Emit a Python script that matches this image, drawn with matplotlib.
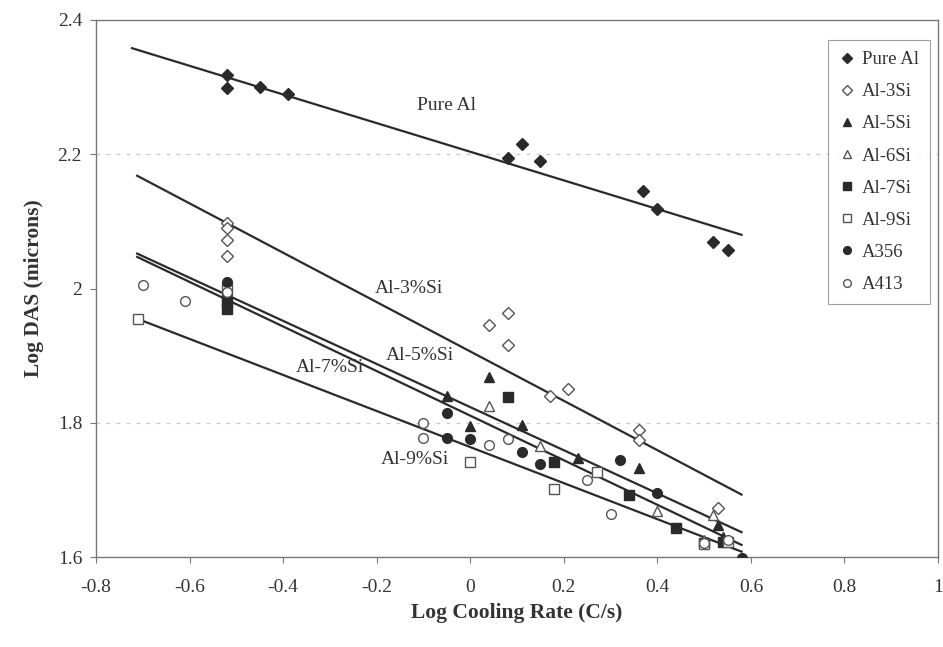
import matplotlib
matplotlib.use("Agg")
import matplotlib.pyplot as plt
import numpy as np

plt.rcParams['font.family'] = ['Liberation Serif', 'DejaVu Serif']

# ---- data ----
pure_x = [-0.52, -0.52, -0.45, -0.39, 0.08, 0.11, 0.15, 0.37, 0.40, 0.52, 0.55]
pure_y = [2.318, 2.298, 2.300, 2.290, 2.195, 2.215, 2.190, 2.145, 2.118, 2.070, 2.057]

si3_x = [-0.52, -0.52, -0.52, -0.52, 0.04, 0.08, 0.08, 0.17, 0.21, 0.36, 0.36, 0.53]
si3_y = [2.098, 2.090, 2.072, 2.049, 1.946, 1.964, 1.916, 1.840, 1.850, 1.789, 1.774, 1.673]

si5_x = [-0.52, -0.05, 0.0, 0.04, 0.11, 0.23, 0.36, 0.53, 0.54]
si5_y = [1.985, 1.840, 1.795, 1.868, 1.797, 1.748, 1.733, 1.648, 1.630]

si6_x = [-0.52, 0.04, 0.15, 0.40, 0.52, 0.50]
si6_y = [1.990, 1.825, 1.765, 1.668, 1.662, 1.625]

si7_x = [-0.52, -0.52, 0.08, 0.18, 0.34, 0.44, 0.50, 0.54]
si7_y = [1.970, 1.980, 1.838, 1.742, 1.692, 1.643, 1.621, 1.622]

si9_x = [-0.71, -0.52, 0.0, 0.18, 0.27, 0.50, 0.55]
si9_y = [1.955, 2.000, 1.742, 1.701, 1.727, 1.620, 1.623]

a356_x = [-0.52, -0.52, -0.52, -0.05, -0.05, 0.0, 0.11, 0.15, 0.32, 0.40, 0.58]
a356_y = [2.010, 1.992, 1.975, 1.815, 1.777, 1.776, 1.757, 1.739, 1.745, 1.695, 1.598]

a413_x = [-0.70, -0.61, -0.52, -0.10, -0.10, 0.04, 0.08, 0.25, 0.30, 0.50, 0.55]
a413_y = [2.005, 1.982, 1.995, 1.800, 1.777, 1.767, 1.776, 1.715, 1.664, 1.621, 1.625]

# regression lines: (x0, y0, x1, y1)
fit_names = ["Pure Al", "Al-3%Si", "Al-5%Si", "Al-7%Si", "Al-9%Si"]
fit_x0 = [-0.723, -0.712, -0.712, -0.712, -0.712]
fit_y0 = [2.358, 2.168, 2.052, 2.047, 1.955]
fit_x1 = [0.58, 0.58, 0.58, 0.58, 0.58]
fit_y1 = [2.080, 1.693, 1.637, 1.618, 1.608]

label_x = [-0.05, -0.13, -0.107, -0.30, -0.118]
label_y = [2.272, 2.0, 1.90, 1.883, 1.745]

xticks = [-0.8, -0.6, -0.4, -0.2, 0, 0.2, 0.4, 0.6, 0.8, 1]
xtick_labels = ["-0.8", "-0.6", "-0.4", "-0.2", "0", "0.2", "0.4", "0.6", "0.8", "1"]
yticks = [1.6, 1.8, 2.0, 2.2, 2.4]
ytick_labels = ["1.6", "1.8", "2", "2.2", "2.4"]

# ---- plot ----
fig = plt.figure(figsize=(9.43, 6.47), dpi=100)
ax = fig.add_axes([96/943, 1-557/647, (938-96)/943, (557-20)/647])

dark = '#2a2a2a'
for yg in [1.8, 2.2]:
    ax.axhline(yg, color='#c8c8c8', lw=0.9, ls=(0, (3, 5)), zorder=0)

for x0, y0, x1, y1 in zip(fit_x0, fit_y0, fit_x1, fit_y1):
    ax.plot([x0, x1], [y0, y1], color=dark, lw=1.6, zorder=2)

ms = 7
ec = dark
ax.plot(pure_x, pure_y, ls='none', marker='D', ms=6, mfc=dark, mec=ec, label='Pure Al', zorder=3)
ax.plot(si3_x, si3_y, ls='none', marker='D', ms=6, mfc='white', mec='#555555', mew=1.0, label='Al-3Si', zorder=3)
ax.plot(si5_x, si5_y, ls='none', marker='^', ms=ms, mfc=dark, mec=ec, label='Al-5Si', zorder=3)
ax.plot(si6_x, si6_y, ls='none', marker='^', ms=ms, mfc='white', mec='#555555', mew=1.0, label='Al-6Si', zorder=3)
ax.plot(si7_x, si7_y, ls='none', marker='s', ms=ms, mfc=dark, mec=ec, label='Al-7Si', zorder=3)
ax.plot(si9_x, si9_y, ls='none', marker='s', ms=ms, mfc='white', mec='#555555', mew=1.0, label='Al-9Si', zorder=3)
ax.plot(a356_x, a356_y, ls='none', marker='o', ms=ms, mfc=dark, mec=ec, label='A356', zorder=3)
ax.plot(a413_x, a413_y, ls='none', marker='o', ms=ms, mfc='white', mec='#555555', mew=1.0, label='A413', zorder=3)

for name, lx, ly in zip(fit_names, label_x, label_y):
    ax.text(lx, ly, name, fontsize=14, color='#333333', ha='center', va='center', zorder=4)

ax.set_xlim(-0.8, 1.0)
ax.set_ylim(1.6, 2.4)
ax.set_xticks(xticks)
ax.set_xticklabels(xtick_labels)
ax.set_yticks(yticks)
ax.set_yticklabels(ytick_labels)
ax.tick_params(axis='both', direction='out', length=4, width=0.8, color='#777777',
               labelsize=14, labelcolor='#333333')
ax.tick_params(axis='x', pad=12)
ax.tick_params(axis='y', pad=6)
for s in ax.spines.values():
    s.set_color('#777777')
    s.set_linewidth(1.0)

ax.set_xlabel('Log Cooling Rate (C/s)', fontsize=15.5, fontweight='bold', color='#333333')
ax.xaxis.set_label_coords(0.5, -0.086)
ax.set_ylabel('Log DAS (microns)', fontsize=15.5, fontweight='bold', color='#333333', labelpad=10)

leg = ax.legend(loc='upper right', bbox_to_anchor=(0.9905, 0.963), borderaxespad=0, fontsize=13.5,
                frameon=True, fancybox=False, edgecolor='#888888', handlelength=0.8, handletextpad=0.4,
                labelspacing=0.8, borderpad=0.6, markerscale=0.8)
leg.get_frame().set_linewidth(0.8)
for t in leg.get_texts():
    t.set_color('#333333')

fig.savefig('out.png', dpi=100)
